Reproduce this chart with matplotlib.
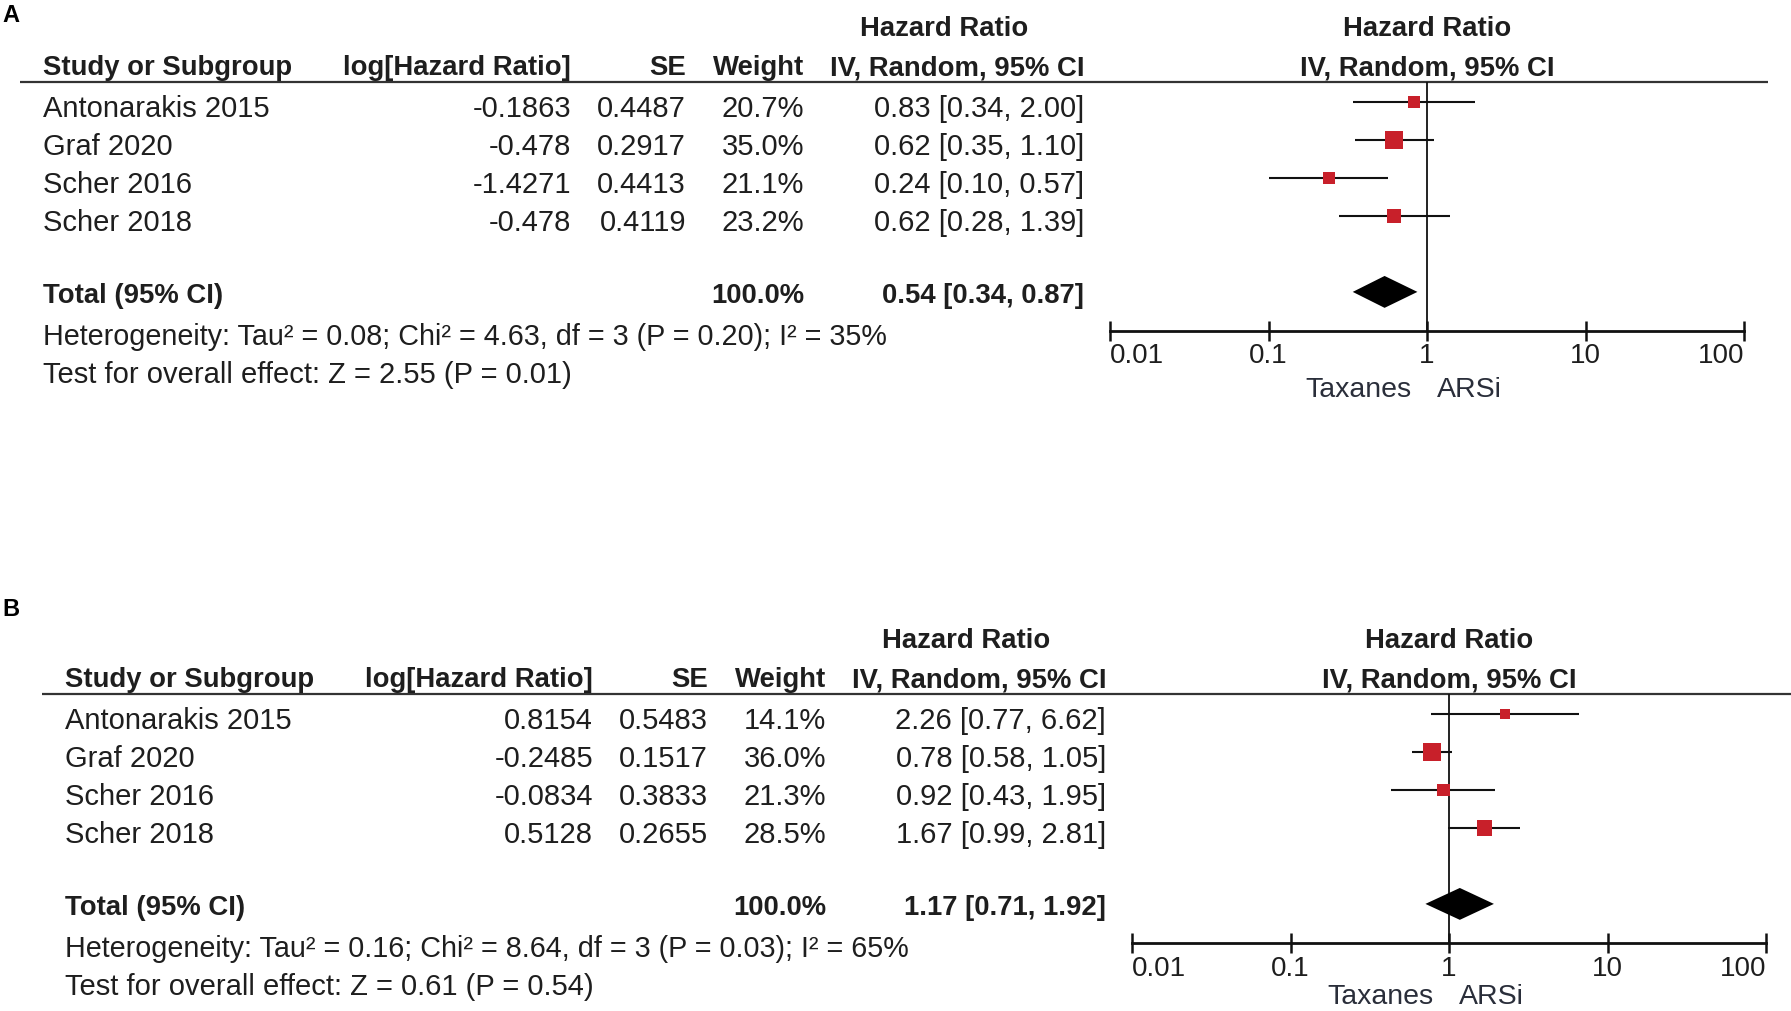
import matplotlib
matplotlib.use("Agg")
import matplotlib.pyplot as plt

plt.rcParams['font.family'] = ['Liberation Sans', 'DejaVu Sans']

# ---- data ----
studies = ["Antonarakis 2015", "Graf 2020", "Scher 2016", "Scher 2018"]

a_loghr = [-0.1863, -0.478, -1.4271, -0.478]
a_se = [0.4487, 0.2917, 0.4413, 0.4119]
a_weight = [20.7, 35.0, 21.1, 23.2]
a_hr = [0.83, 0.62, 0.24, 0.62]
a_lo = [0.34, 0.35, 0.10, 0.28]
a_hi = [2.00, 1.10, 0.57, 1.39]
a_total = [0.54, 0.34, 0.87]
a_het = "Heterogeneity: Tau² = 0.08; Chi² = 4.63, df = 3 (P = 0.20); I² = 35%"
a_test = "Test for overall effect: Z = 2.55 (P = 0.01)"

b_loghr = [0.8154, -0.2485, -0.0834, 0.5128]
b_se = [0.5483, 0.1517, 0.3833, 0.2655]
b_weight = [14.1, 36.0, 21.3, 28.5]
b_hr = [2.26, 0.78, 0.92, 1.67]
b_lo = [0.77, 0.58, 0.43, 0.99]
b_hi = [6.62, 1.05, 1.95, 2.81]
b_total = [1.17, 0.71, 1.92]
b_het = "Heterogeneity: Tau² = 0.16; Chi² = 8.64, df = 3 (P = 0.03); I² = 65%"
b_test = "Test for overall effect: Z = 0.61 (P = 0.54)"

total_weight = "100.0%"
ticks = [0.01, 0.1, 1, 10, 100]
tick_labels = ["0.01", "0.1", "1", "10", "100"]

W, H = 1791, 1011
TXT = '#1e1e1e'
RED = '#c8202a'
FS = 21
FSB = 19.8

fig = plt.figure(figsize=(W / 100, H / 100), dpi=100)
tax = fig.add_axes([0, 0, 1, 1])
tax.set_xlim(0, W)
tax.set_ylim(H, 0)
tax.axis('off')


def panel(letter, ly, dx, dy, loghr, se, weight, hr, lo, hi, total, het, test, line_end, foot_y):
    tax.text(2, ly, letter, fontsize=17, fontweight='bold', va='center', ha='left', color='k')

    bold = dict(fontsize=FSB, fontweight='bold', color=TXT, va='baseline')
    norm = dict(fontsize=FS, color=TXT, va='baseline')

    # column headers
    tax.text(944 + dx, 36 + dy, "Hazard Ratio", ha='center', **bold)
    tax.text(1427 + dx, 36 + dy, "Hazard Ratio", ha='center', **bold)
    tax.text(43 + dx, 75 + dy, "Study or Subgroup", ha='left', **bold)
    tax.text(571 + dx, 75 + dy, "log[Hazard Ratio]", ha='right', **bold)
    tax.text(686 + dx, 75 + dy, "SE", ha='right', **bold)
    tax.text(804 + dx, 75 + dy, "Weight", ha='right', **bold)
    tax.text(1084 + dx, 75 + dy, "IV, Random, 95% CI", ha='right', **bold)
    tax.text(1427 + dx, 75 + dy, "IV, Random, 95% CI", ha='center', **bold)
    tax.plot([20 + dx, line_end], [82 + dy, 82 + dy], color='#333333', lw=1.6,
             solid_capstyle='butt')

    # study rows
    for i, name in enumerate(studies):
        y = 117 + 38 * i + dy
        tax.text(43 + dx, y, name, ha='left', **norm)
        tax.text(571 + dx, y, str(loghr[i]), ha='right', **norm)
        tax.text(686 + dx, y, str(se[i]), ha='right', **norm)
        tax.text(804 + dx, y, f"{weight[i]:.1f}%", ha='right', **norm)
        tax.text(1084 + dx, y, f"{hr[i]:.2f} [{lo[i]:.2f}, {hi[i]:.2f}]", ha='right', **norm)

    yt = 303 + dy
    tax.text(43 + dx, yt, "Total (95% CI)", ha='left', **bold)
    tax.text(804 + dx, yt, total_weight, ha='right', **bold)
    tax.text(1084 + dx, yt, f"{total[0]:.2f} [{total[1]:.2f}, {total[2]:.2f}]", ha='right', **bold)
    tax.text(43 + dx, 345 + dy, het, ha='left', fontsize=FS - 0.3, color=TXT, va='baseline')
    tax.text(43 + dx, 383 + dy, test, ha='left', **norm)

    tax.text(1412 + dx, foot_y, "Taxanes", ha='right', fontsize=FS - 0.5, color='#2a2e3a',
             va='baseline')
    tax.text(1437 + dx, foot_y, "ARSi", ha='left', fontsize=FS - 0.5, color='#2a2e3a',
             va='baseline')

    # forest plot axes (log scale)
    x0, x1 = 1110 + dx, 1744 + dx
    ytop, ybot = 82 + dy, 331 + dy
    ax = fig.add_axes([x0 / W, 1 - ybot / H, (x1 - x0) / W, (ybot - ytop) / H])
    ax.set_xscale('log')
    ax.set_xlim(0.01, 100)
    ax.set_ylim(6.03, -0.53)
    ax.patch.set_alpha(0)
    for s in ['top', 'left', 'right']:
        ax.spines[s].set_visible(False)
    ax.spines['bottom'].set_linewidth(2.0)
    ax.spines['bottom'].set_color('#111111')
    ax.set_yticks([])
    ax.set_xticks(ticks)
    ax.set_xticklabels(tick_labels)
    ax.minorticks_off()
    ax.tick_params(axis='x', direction='inout', length=14, width=1.8, pad=2,
                   labelsize=FS - 1, labelcolor=TXT, color='#111111')
    labs = ax.get_xticklabels()
    labs[0].set_horizontalalignment('left')
    labs[-1].set_horizontalalignment('right')

    ax.axvline(1, color='#111111', lw=1.3, zorder=1)

    rows = list(range(len(studies)))
    ax.hlines(rows, lo, hi, color='#111111', lw=1.5, zorder=2)
    sizes = [((4 + 0.4 * w) * 0.72) ** 2 for w in weight]
    ax.scatter(hr, rows, s=sizes, marker='s', color=RED, linewidths=0, zorder=3)

    yd = 5
    hh = 0.42
    ax.fill([total[1], total[0], total[2], total[0]], [yd, yd - hh, yd, yd + hh],
            color='black', lw=0, zorder=3)
    return ax


panel("A", 16, 0, 0, a_loghr, a_se, a_weight, a_hr, a_lo, a_hi, a_total, a_het, a_test,
      1768, 397)
panel("B", 610, 22, 612, b_loghr, b_se, b_weight, b_hr, b_lo, b_hi, b_total, b_het, b_test,
      1791, 1004)

fig.savefig("out.png", dpi=100, facecolor='white')
